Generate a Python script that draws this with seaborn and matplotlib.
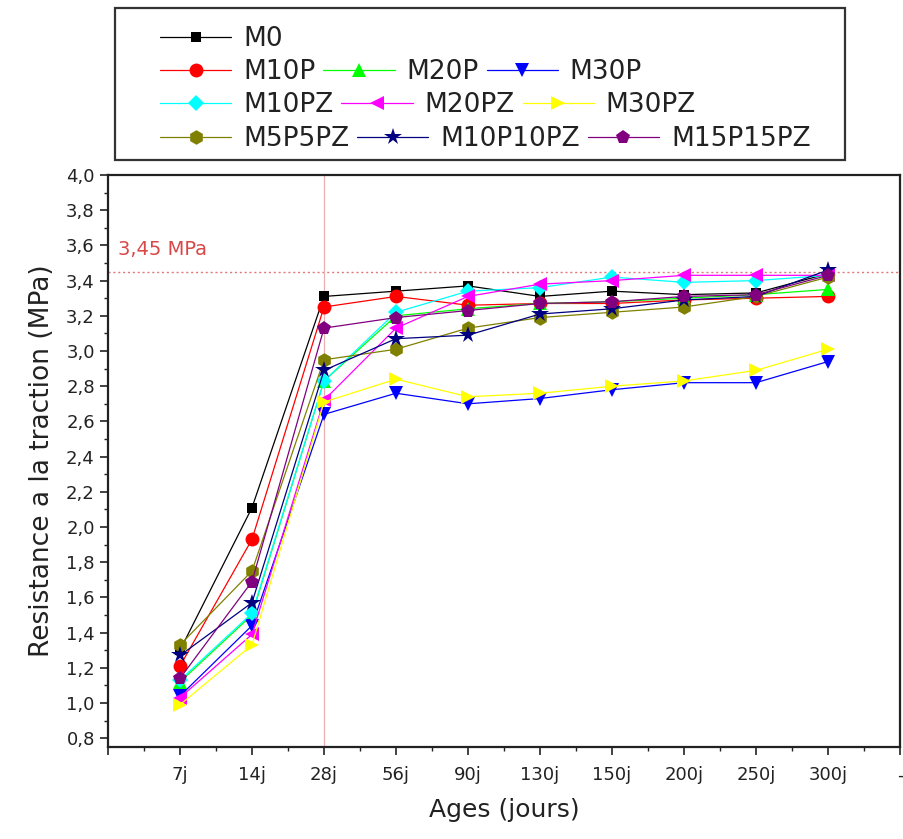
import numpy as np
import pandas as pd
import matplotlib
matplotlib.use("Agg")
import matplotlib.pyplot as plt
import seaborn as sns
from matplotlib.lines import Line2D
from matplotlib.patches import Rectangle
from matplotlib.ticker import FixedLocator, MultipleLocator, FuncFormatter

# Ages of testing (categorical x axis)
ages = ["7j", "14j", "28j", "56j", "90j", "130j", "150j", "200j", "250j", "300j"]

# Tensile strength (MPa) for each mix
M0 = [1.30, 2.11, 3.31, 3.34, 3.37, 3.31, 3.34, 3.32, 3.33, 3.44]
M10P = [1.21, 1.93, 3.25, 3.31, 3.26, 3.27, 3.27, 3.29, 3.30, 3.31]
M20P = [1.12, 1.50, 2.83, 3.20, 3.24, 3.27, 3.28, 3.30, 3.32, 3.35]
M30P = [1.04, 1.44, 2.64, 2.76, 2.70, 2.73, 2.78, 2.82, 2.82, 2.94]
M10PZ = [1.13, 1.51, 2.83, 3.22, 3.34, 3.36, 3.42, 3.39, 3.40, 3.43]
M20PZ = [1.03, 1.39, 2.72, 3.13, 3.31, 3.38, 3.40, 3.43, 3.43, 3.43]
M30PZ = [0.99, 1.33, 2.71, 2.84, 2.74, 2.76, 2.80, 2.83, 2.89, 3.01]
M5P5PZ = [1.33, 1.75, 2.95, 3.01, 3.13, 3.19, 3.22, 3.25, 3.31, 3.42]
M10P10PZ = [1.27, 1.57, 2.89, 3.07, 3.09, 3.21, 3.24, 3.29, 3.31, 3.46]
M15P15PZ = [1.14, 1.69, 3.13, 3.19, 3.23, 3.27, 3.28, 3.31, 3.32, 3.43]

series_names = ["M0", "M10P", "M20P", "M30P", "M10PZ", "M20PZ", "M30PZ",
                "M5P5PZ", "M10P10PZ", "M15P15PZ"]
series_values = [M0, M10P, M20P, M30P, M10PZ, M20PZ, M30PZ,
                 M5P5PZ, M10P10PZ, M15P15PZ]

ref_value = 3.45
ref_label = "3,45 MPa"

colors = {
    "M0": "#000000", "M10P": "#ff0000", "M20P": "#00ff00", "M30P": "#0000ff",
    "M10PZ": "#00ffff", "M20PZ": "#ff00ff", "M30PZ": "#ffff00",
    "M5P5PZ": "#808000", "M10P10PZ": "#000080", "M15P15PZ": "#800080",
}
markers = {
    "M0": "s", "M10P": "o", "M20P": "^", "M30P": "v",
    "M10PZ": "D", "M20PZ": "<", "M30PZ": ">",
    "M5P5PZ": "h", "M10P10PZ": "*", "M15P15PZ": "p",
}
marker_sizes = {"M0": 7.5, "M10PZ": 8, "M10P10PZ": 13, "M5P5PZ": 10.5,
                "M15P15PZ": 10.5}

positions = np.arange(1, len(ages) + 1)
df = pd.DataFrame(
    [(name, positions[i], v)
     for name, vals in zip(series_names, series_values)
     for i, v in enumerate(vals)],
    columns=["mix", "pos", "val"],
)

sns.set_style("white")
plt.rcParams["font.family"] = ["DejaVu Sans"]

fig = plt.figure(figsize=(9.04, 8.39), dpi=100)
ax = fig.add_axes([108 / 904, 1 - 747 / 839, 792 / 904, 572 / 839])

# reference lines
ax.axhline(ref_value, color="#e07878", lw=1.0, ls=(0, (1.5, 2)), zorder=1)
ax.axvline(3, color="#e8b0b0", lw=0.9, zorder=1)

for name in series_names:
    sub = df[df["mix"] == name]
    sns.lineplot(data=sub, x="pos", y="val", ax=ax, color=colors[name],
                 marker=markers[name], markersize=marker_sizes.get(name, 10),
                 markeredgewidth=0, linewidth=0.9, legend=False, zorder=3)

ax.text(0.14, 3.545, ref_label, color="#d84848", fontsize=14, va="baseline",
        ha="left")

ax.set_xlim(0, 11)
ax.set_ylim(0.75, 4.0)
ax.xaxis.set_major_locator(FixedLocator(np.arange(0, 12)))
ax.set_xticklabels([""] + ages + ["-"])
ax.xaxis.set_minor_locator(FixedLocator(np.arange(0.5, 11, 1.0)))
ax.yaxis.set_major_locator(FixedLocator(np.round(np.arange(0.8, 4.01, 0.2), 1)))
ax.yaxis.set_major_formatter(FuncFormatter(lambda v, p: f"{v:.1f}".replace(".", ",")))
ax.yaxis.set_minor_locator(MultipleLocator(0.1))

ax.tick_params(axis="both", which="major", direction="out", length=6,
               width=1.2, color="#222222", labelsize=13, labelcolor="#222222",
               bottom=True, left=True)
ax.tick_params(axis="both", which="minor", direction="out", length=3,
               width=1.0, color="#222222", bottom=True, left=True)
ax.tick_params(axis="x", pad=8)
for sp in ax.spines.values():
    sp.set_color("#222222")
    sp.set_linewidth(1.6)

ax.set_xlabel("Ages (jours)", fontsize=18, labelpad=10, color="#222222")
ax.set_ylabel("Resistance a la traction (MPa)", fontsize=19, labelpad=8,
              color="#222222")

# Legend: four rows inside one frame
rows = [["M0"], ["M10P", "M20P", "M30P"], ["M10PZ", "M20PZ", "M30PZ"],
        ["M5P5PZ", "M10P10PZ", "M15P15PZ"]]
row_y = [39, 72, 105, 139]
for names, yc in zip(rows, row_y):
    handles = [Line2D([0], [0], color=colors[n], lw=0.9, marker=markers[n],
                      markersize=marker_sizes.get(n, 10), markeredgewidth=0)
               for n in names]
    leg = fig.legend(handles, names, loc="center left",
                     bbox_to_anchor=(160 / 904, 1 - yc / 839),
                     ncol=len(names), frameon=False, fontsize=19,
                     handlelength=2.7, handletextpad=0.45, columnspacing=0.3,
                     borderpad=0, borderaxespad=0, labelcolor="#222222")
fig.add_artist(Rectangle((115 / 904, 1 - 160 / 839), 730 / 904, 152 / 839,
                         transform=fig.transFigure, fill=False,
                         edgecolor="#333333", linewidth=1.6))

fig.savefig("out.png", dpi=100)
